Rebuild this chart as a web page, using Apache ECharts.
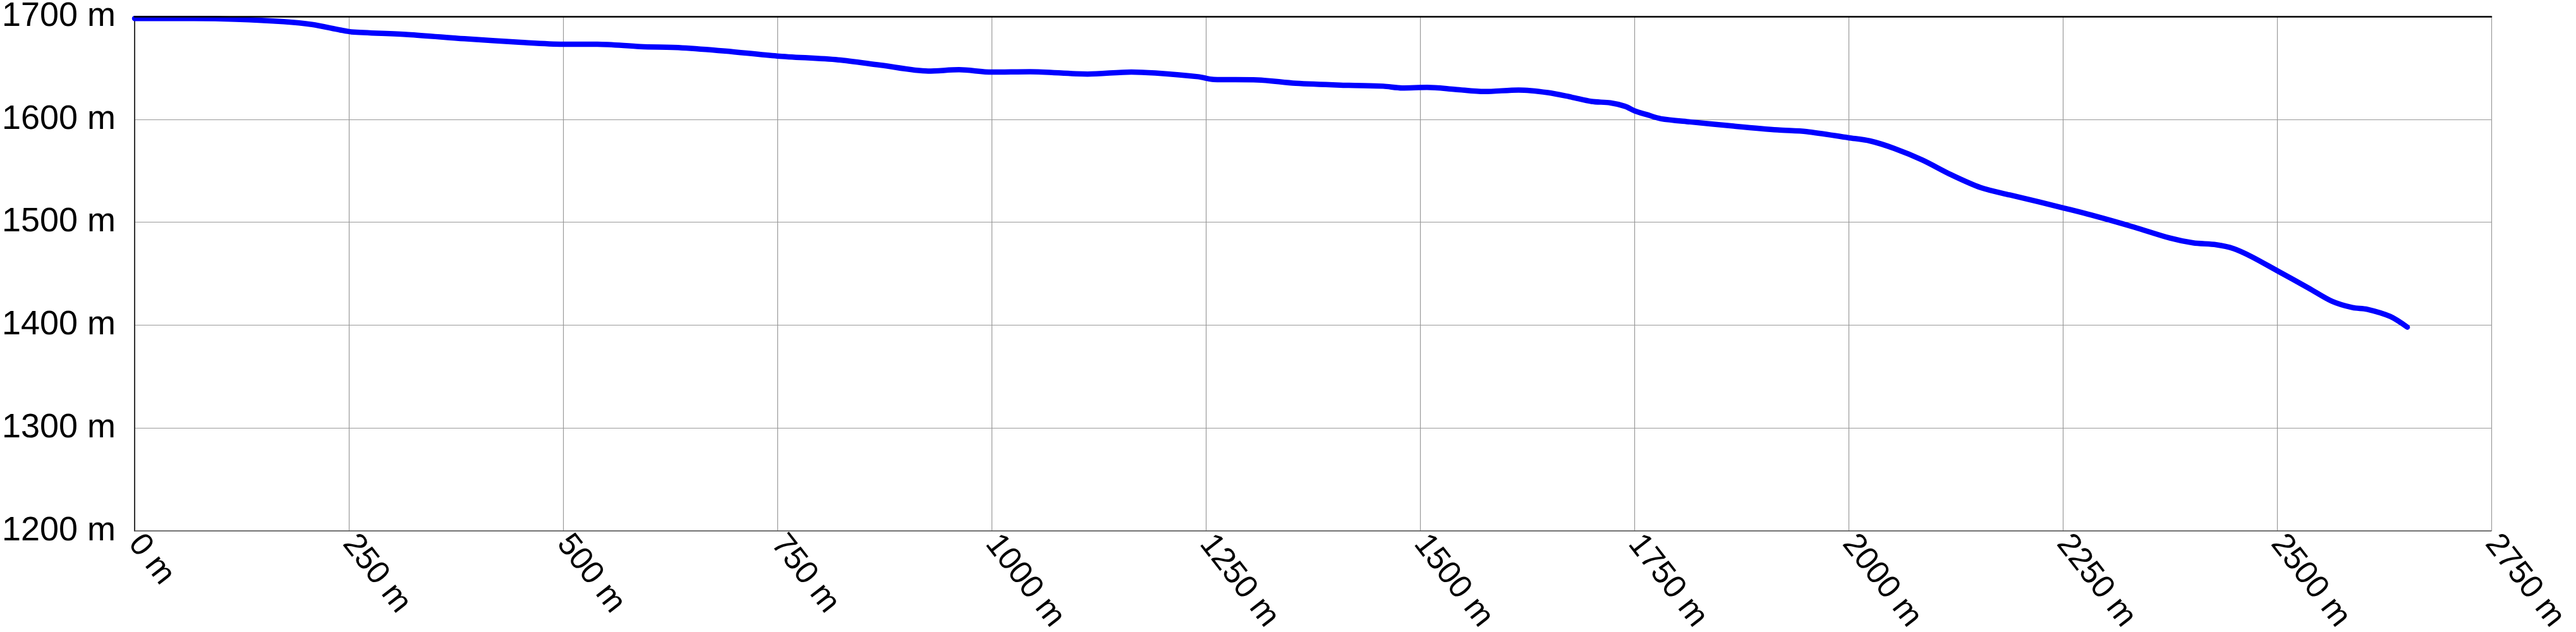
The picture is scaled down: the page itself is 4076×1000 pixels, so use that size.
<!DOCTYPE html>
<html>
<head>
<meta charset="utf-8">
<script src="https://cdn.jsdelivr.net/npm/echarts@6/dist/echarts.min.js"></script>
<style>
html,body{margin:0;padding:0;background:#fff;}
#chart{width:4076px;height:1000px;}
</style>
</head>
<body>
<div id="chart"></div>
<script>
// distance along the route (m)
var distance = [0,70,118,174,207,240,253,319,385,451,500,540,590,639,689,750,821,870,926,962,1000,1045,1112,1163,1191,1241,1259,1310,1355,1417,1457,1479,1508,1541,1575,1615,1649,1677,1700,1722,1739,1751,1764,1781,1815,1866,1917,1951,2000,2025,2053,2086,2120,2154,2188,2222,2250,2283,2334,2375,2402,2429,2449,2470,2500,2537,2564,2588,2605,2632,2652];
// elevation (m)
var elevation = [1698,1698,1697.3,1695,1692.2,1686.8,1685,1682.4,1678.3,1674.8,1673,1673,1670.7,1669.5,1666.4,1661.5,1657.8,1652.7,1646.9,1648.2,1645.9,1646.3,1644,1646,1645,1641.4,1638.7,1638.3,1635,1633,1632.2,1630.5,1631,1629.1,1627,1628.5,1626,1621.5,1617.4,1616,1612.7,1608,1604.7,1600.6,1597.5,1593.4,1589.7,1588.1,1582.1,1579,1571.8,1560.5,1546,1533.7,1526.5,1519.8,1514,1507,1495,1484.6,1479.9,1478.1,1474.4,1466.6,1452.9,1435.9,1423.2,1417,1415.4,1408.4,1398];
// axis ranges / ticks
var xTicks = {min: 0, max: 2750, interval: 250};
var yTicks = {min: 1200, max: 1700, interval: 100};
var unit = ' m';

var points = distance.map(function (d, i) { return [d, elevation[i]]; });

var chart = echarts.init(document.getElementById('chart'), null, {renderer: 'canvas'});
var fontFamily = 'Liberation Sans';
chart.setOption({
  animation: false,
  backgroundColor: '#ffffff',
  grid: {left: 213, right: 134, top: 26, bottom: 160, containLabel: false, outerBoundsMode: 'none'},
  xAxis: [{
    type: 'value',
    position: 'bottom',
    min: xTicks.min, max: xTicks.max, interval: xTicks.interval,
    axisLine: {show: true, lineStyle: {color: '#555555', width: 1.5}},
    axisTick: {show: false},
    splitLine: {show: true, lineStyle: {color: '#999999', width: 1.2}},
    axisLabel: {
      rotate: -52,
      margin: 12,
      fontFamily: fontFamily,
      fontSize: 51,
      color: '#000',
      hideOverlap: false,
      formatter: function (v) { return v + unit; }
    }
  }, {
    type: 'value',
    position: 'top',
    min: xTicks.min, max: xTicks.max, interval: xTicks.interval,
    axisLine: {show: true, lineStyle: {color: '#000000', width: 2.5}},
    axisTick: {show: false},
    axisLabel: {show: false},
    splitLine: {show: false},
    z: 10
  }],
  yAxis: {
    type: 'value',
    min: yTicks.min, max: yTicks.max, interval: yTicks.interval,
    axisLine: {show: true, lineStyle: {color: '#333333', width: 2}},
    axisTick: {show: false},
    splitLine: {show: true, lineStyle: {color: '#999999', width: 1.2}},
    axisLabel: {
      margin: 30,
      fontFamily: fontFamily,
      fontSize: 54,
      color: '#000',
      hideOverlap: false,
      formatter: function (v) { return v + unit; }
    }
  },
  series: [{
    type: 'line',
    xAxisIndex: 0,
    data: points,
    smooth: 0.3,
    showSymbol: false,
    symbol: 'none',
    lineStyle: {color: '#0000ff', width: 8.5, cap: 'round', join: 'round'}
  }]
});
</script>
</body>
</html>
